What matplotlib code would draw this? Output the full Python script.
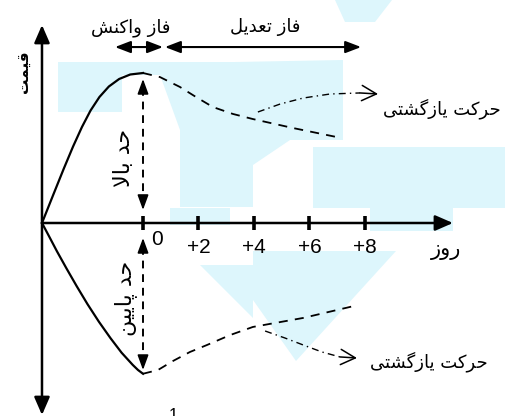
import matplotlib
matplotlib.use("Agg")
import matplotlib.pyplot as plt
from matplotlib.patches import Polygon

# Diagram values (x in days, y in price units)
day_ticks = [0, 2, 4, 6, 8]
tick_labels = ["0", "+2", "+4", "+6", "+8"]

up_solid_x = [-3.64, -3.23, -2.86, -2.52, -2.20, -1.89, -1.57, -1.23, -0.86, -0.46, 0.0]
up_solid_y = [0.0, 1.9, 3.6, 5.1, 6.4, 7.5, 8.4, 9.1, 9.6, 9.9, 10.0]
up_dash_x = [0.0, 0.61, 1.33, 1.91, 2.52, 3.24, 3.96, 5.41, 7.14]
up_dash_y = [10.0, 9.73, 9.07, 8.4, 7.73, 7.27, 6.93, 6.33, 5.67]
up_ret_x = [4.14, 4.94, 5.77, 6.74, 7.82, 8.47]
up_ret_y = [7.4, 7.93, 8.33, 8.6, 8.67, 8.6]

lo_solid_x = [-3.64, -3.39, -3.10, -2.76, -2.39, -2.00, -1.59, -1.17, -0.77, -0.37, -0.18, 0.0]
lo_solid_y = [0.0, -0.87, -1.89, -3.02, -4.21, -5.41, -6.58, -7.68, -8.65, -9.46, -9.8, -10.05]
lo_dash_x = [0.0, 0.54, 1.08, 1.69, 2.31, 3.14, 3.96, 5.77, 7.75]
lo_dash_y = [-10.05, -9.8, -9.2, -8.6, -8.13, -7.47, -6.93, -6.33, -5.47]
lo_ret_x = [4.40, 5.12, 5.77, 6.45, 7.10, 7.71]
lo_ret_y = [-7.2, -7.67, -8.13, -8.6, -8.93, -9.0]

origin_x = -3.64
x_tip = 11.17
y_top = 13.2
y_bottom = -12.8
phase_y = 11.73
reaction_phase = (-1.01, 0.72)
adjust_phase = (0.79, 7.86)
upper_limit = (9.6, 0.87)
lower_limit = (-1.0, -9.8)

# --- minimal Persian shaping (matplotlib has no bidi / joining) ---
FORMS = {
    'ا': ('\uFE8D', '\uFE8E', None, None),
    'ب': ('\uFE8F', '\uFE90', '\uFE91', '\uFE92'),
    'پ': ('\uFB56', '\uFB57', '\uFB58', '\uFB59'),
    'ت': ('\uFE95', '\uFE96', '\uFE97', '\uFE98'),
    'ح': ('\uFEA1', '\uFEA2', '\uFEA3', '\uFEA4'),
    'د': ('\uFEA9', '\uFEAA', None, None),
    'ر': ('\uFEAD', '\uFEAE', None, None),
    'ز': ('\uFEAF', '\uFEB0', None, None),
    'ش': ('\uFEB5', '\uFEB6', '\uFEB7', '\uFEB8'),
    'ع': ('\uFEC9', '\uFECA', '\uFECB', '\uFECC'),
    'ف': ('\uFED1', '\uFED2', '\uFED3', '\uFED4'),
    'ق': ('\uFED5', '\uFED6', '\uFED7', '\uFED8'),
    'ک': ('\uFB8E', '\uFB8F', '\uFB90', '\uFB91'),
    'گ': ('\uFB92', '\uFB93', '\uFB94', '\uFB95'),
    'ل': ('\uFEDD', '\uFEDE', '\uFEDF', '\uFEE0'),
    'م': ('\uFEE1', '\uFEE2', '\uFEE3', '\uFEE4'),
    'ن': ('\uFEE5', '\uFEE6', '\uFEE7', '\uFEE8'),
    'و': ('\uFEED', '\uFEEE', None, None),
    'ی': ('\uFBFC', '\uFBFD', '\uFBFE', '\uFBFF'),
}


def fa(text):
    chars = list(text)
    n = len(chars)
    res = []
    i = 0
    while i < n:
        c = chars[i]
        if c not in FORMS:
            res.append(c)
            i += 1
            continue
        prev = chars[i - 1] if i > 0 else None
        link_prev = prev in FORMS and FORMS[prev][2] is not None
        if c == 'ل' and i + 1 < n and chars[i + 1] == 'ا':
            res.append('\uFEFC' if link_prev else '\uFEFB')
            i += 2
            continue
        nxt = chars[i + 1] if i + 1 < n else None
        link_next = FORMS[c][2] is not None and nxt in FORMS
        iso, fin, ini, med = FORMS[c]
        if link_prev and link_next:
            res.append(med)
        elif link_prev:
            res.append(fin)
        elif link_next:
            res.append(ini)
        else:
            res.append(iso)
        i += 1
    return ''.join(reversed(res))


fig = plt.figure(figsize=(5.06, 4.16), dpi=100)

# faint watermark in the background (pixel coordinates)
wm = fig.add_axes([0, 0, 1, 1], zorder=0)
wm.set_xlim(0, 506)
wm.set_ylim(416, 0)
wm.axis("off")
wm_color = "#ddf6fc"
shapes = [
    [(58, 62), (235, 62), (235, 75), (122, 75), (122, 112), (58, 112)],
    [(160, 75), (235, 62), (343, 60), (343, 140), (290, 140), (253, 165), (253, 207), (180, 207), (180, 130)],
    [(313, 147), (506, 147), (506, 208), (453, 208), (453, 231), (370, 231), (370, 208), (313, 208)],
    [(335, 0), (392, 0), (375, 22), (345, 22)],
    [(253, 251), (396, 251), (296, 361), (253, 300)],
    [(170, 208), (230, 208), (230, 225), (170, 225)],
    [(200, 265), (253, 265), (253, 318)],
]
for s in shapes:
    wm.add_patch(Polygon(s, closed=True, color=wm_color, lw=0))

ax = fig.add_axes([0, 0, 1, 1], zorder=1)
ax.patch.set_alpha(0)
ax.set_xlim(-143 / 27.75, (506 - 143) / 27.75)
ax.set_ylim((223 - 416) / 15, 223 / 15)
ax.axis("off")


def arrow(p_from, p_to, style, hl, hw, lw=1.6):
    ax.annotate("", xy=p_to, xytext=p_from,
                arrowprops=dict(arrowstyle=f"{style},head_length={hl},head_width={hw}",
                                lw=lw, color="black", shrinkA=0, shrinkB=0,
                                mutation_scale=10))


# axes
arrow((origin_x, y_bottom), (origin_x, y_top), "<|-|>", 1.08, 0.47, lw=1.8)
arrow((origin_x, 0), (x_tip, 0), "-|>", 1.08, 0.47, lw=1.8)
for d in day_ticks:
    ax.plot([d, d], [-0.45, 0.45], color="black", lw=2.6, solid_capstyle="butt")

num_font = ["Liberation Sans", "DejaVu Sans"]
for d, lab in zip(day_ticks, tick_labels):
    if d == 0:
        ax.text(d + 0.5, -1.1, lab, ha="center", va="center", fontsize=15, family=num_font)
    else:
        ax.text(d, -1.6, lab, ha="center", va="center", fontsize=15, family=num_font)

# curves
ax.plot(up_solid_x, up_solid_y, color="black", lw=1.6, solid_joinstyle="round")
ax.plot(lo_solid_x, lo_solid_y, color="black", lw=1.6, solid_joinstyle="round")
ax.plot(up_dash_x, up_dash_y, color="black", lw=1.3, dashes=(5, 4))
ax.plot(lo_dash_x, lo_dash_y, color="black", lw=1.3, dashes=(5, 4))
ax.plot(up_ret_x[:-1], up_ret_y[:-1], color="black", lw=1.0, dashes=(5, 3, 1, 3))
ax.plot(lo_ret_x[:-1], lo_ret_y[:-1], color="black", lw=1.0, dashes=(5, 3, 1, 3))
arrow((up_ret_x[-2], up_ret_y[-2]), (up_ret_x[-1], up_ret_y[-1]), "->", 1.05, 0.55, lw=1.1)
arrow((lo_ret_x[-2], lo_ret_y[-2]), (lo_ret_x[-1], lo_ret_y[-1]), "->", 1.05, 0.55, lw=1.1)

# limit arrows (dashed shaft, solid heads)
for top, bot in [upper_limit, lower_limit]:
    ax.plot([0, 0], [top - 0.6, bot + 0.6], color="black", lw=1.4, dashes=(4, 3))
    arrow((0, top - 0.7), (0, top), "-|>", 0.9, 0.33, lw=1.2)
    arrow((0, bot + 0.7), (0, bot), "-|>", 0.9, 0.33, lw=1.2)

# phase arrows
arrow((reaction_phase[0], phase_y), (reaction_phase[1], phase_y), "<|-|>", 0.94, 0.36, lw=1.5)
arrow((adjust_phase[0], phase_y), (adjust_phase[1], phase_y), "<|-|>", 0.94, 0.36, lw=1.5)

# texts
fk = dict(family="DejaVu Sans", color="black")
ax.text(-0.43, 13.0, fa("فاز واکنش"), ha="center", va="center", fontsize=13, **fk)
ax.text(4.4, 13.05, fa("فاز تعدیل"), ha="center", va="center", fontsize=13, **fk)
ax.text(-4.29, 10.07, fa("قیمت"), ha="center", va="center", fontsize=11,
        rotation=90, fontweight="bold", **fk)
ax.text(-0.68, 4.33, fa("حد بالا"), ha="center", va="center", fontsize=16, rotation=90, **fk)
ax.text(-0.62, -5.0, fa("حد پایین"), ha="center", va="center", fontsize=16, rotation=90, **fk)
ax.text(8.65, 7.6, fa("حرکت یازگشتی"), ha="left", va="center", fontsize=13, **fk)
ax.text(8.18, -9.25, fa("حرکت یازگشتی"), ha="left", va="center", fontsize=13, **fk)
ax.text(10.92, -1.8, fa("روز"), ha="center", va="center", fontsize=15, **fk)
ax.text(1.08, -12.33, "1", ha="center", va="top", fontsize=12, family=num_font)

fig.savefig("out.png", dpi=100)
